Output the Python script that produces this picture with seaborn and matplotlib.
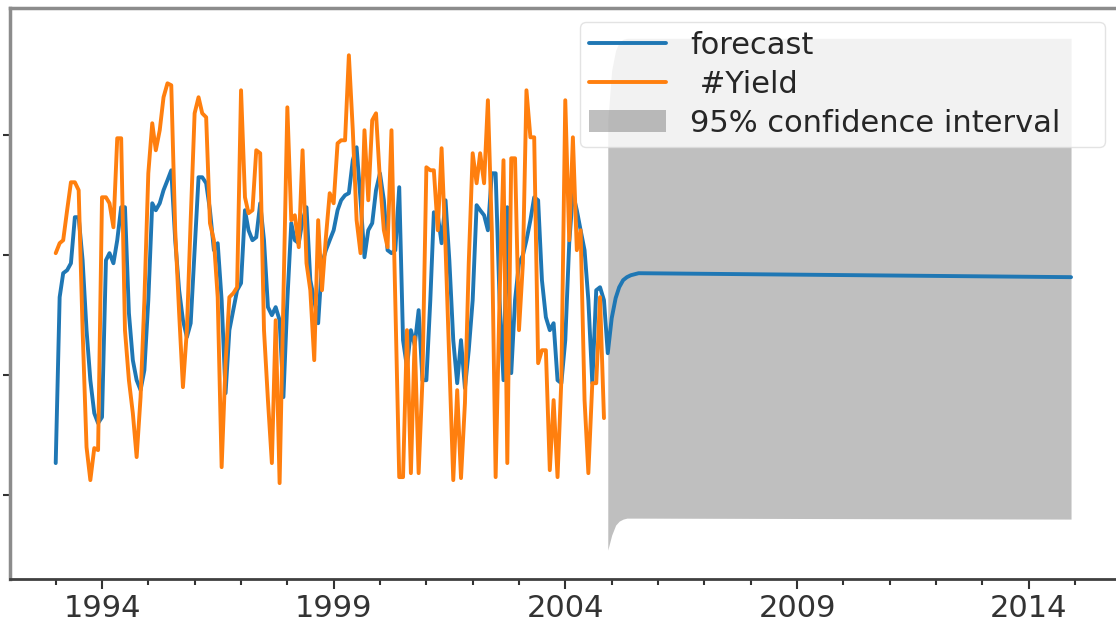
import numpy as np
import pandas as pd
import matplotlib
matplotlib.use('Agg')
import matplotlib.pyplot as plt
import matplotlib.dates as mdates
import seaborn as sns

# observed series (monthly, starting Jan 1993)
start_month = "1993-01-01"
yield_vals = [
    30.17, 31.00, 31.25, 33.75, 36.08, 36.08, 35.42, 23.75, 14.00, 11.25, 13.92, 13.75,
    34.83, 34.83, 34.33, 32.33, 39.75, 39.75, 23.75, 19.58, 16.83, 13.17, 18.17, 26.25,
    36.83, 41.00, 38.75, 40.42, 43.17, 44.33, 44.17, 32.08, 25.17, 19.00, 23.75, 32.92,
    41.83, 43.17, 41.83, 41.50, 32.67, 31.25, 26.50, 12.33, 21.00, 26.50, 26.83, 27.33,
    43.75, 34.83, 33.50, 33.75, 38.75, 38.50, 23.75, 17.92, 12.67, 24.58, 11.00, 26.25,
    42.33, 32.92, 33.33, 30.67, 38.75, 29.33, 27.08, 21.25, 32.92, 27.08, 31.50, 35.17,
    34.33, 39.33, 39.58, 39.58, 46.67, 40.42, 32.92, 30.17, 40.42, 34.58, 41.25, 41.83,
    36.25, 32.08, 30.67, 40.42, 26.25, 11.50, 11.50, 23.75, 11.83, 23.17, 11.83, 19.58,
    37.33, 37.08, 37.08, 32.08, 38.92, 30.67, 21.00, 11.25, 18.75, 11.42, 17.67, 29.33,
    38.50, 36.00, 38.50, 36.00, 42.92, 32.08, 11.50, 26.50, 37.92, 12.67, 38.08, 38.08,
    23.75, 29.33, 43.75, 39.83, 39.83, 21.00, 22.08, 22.08, 12.08, 17.92, 11.50, 19.58,
    42.92, 31.25, 39.83, 30.42, 32.08, 17.92, 11.83, 19.33, 19.33, 26.50, 16.42,
]

# in-sample prediction (same months)
pred_vals = [
    12.67, 26.50, 28.50, 28.75, 29.33, 33.17, 33.17, 29.58, 23.75, 19.58, 16.83, 16.00,
    16.50, 29.58, 30.17, 29.33, 31.25, 34.00, 34.00, 25.17, 21.25, 19.58, 18.75, 20.42,
    26.25, 34.33, 33.75, 34.33, 35.42, 36.25, 37.08, 31.25, 27.08, 24.58, 23.17, 24.33,
    30.42, 36.50, 36.50, 36.00, 33.75, 30.42, 31.00, 26.25, 18.50, 23.75, 25.42, 27.08,
    27.67, 33.75, 32.08, 31.25, 31.50, 34.33, 31.25, 25.67, 25.00, 25.67, 24.58, 18.17,
    26.25, 32.67, 31.25, 31.00, 32.92, 34.00, 27.92, 26.25, 24.33, 29.33, 30.42, 31.25,
    32.08, 33.75, 34.58, 35.00, 35.17, 37.92, 39.00, 34.58, 29.83, 32.08, 32.67, 35.42,
    36.83, 34.58, 30.42, 30.17, 30.42, 35.67, 22.92, 20.67, 23.75, 22.50, 25.42, 19.58,
    19.58, 26.25, 33.58, 33.33, 31.00, 34.58, 29.58, 22.92, 19.33, 22.92, 18.92, 22.08,
    26.25, 34.17, 33.75, 33.33, 32.08, 36.83, 36.83, 26.25, 19.58, 34.00, 20.17, 26.25,
    29.33, 30.00, 31.25, 32.92, 34.83, 34.58, 27.92, 24.83, 23.75, 24.33, 19.58, 19.33,
    22.92, 31.00, 35.17, 33.75, 32.08, 30.42, 26.25, 19.33, 27.08, 27.33, 26.25,
]

# out-of-sample forecast and its confidence band
fc_dates = ["2004-12-01", "2005-01-01", "2005-02-01", "2005-03-01", "2005-04-01",
            "2005-05-01", "2005-06-01", "2005-08-01", "2014-12-01"]
fc_vals = [21.83, 24.75, 26.42, 27.33, 27.92, 28.17, 28.33, 28.50, 28.17]
ci_lower = [5.42, 6.67, 7.50, 7.83, 8.00, 8.08, 8.08, 8.08, 8.00]
ci_upper = [41.25, 45.42, 47.08, 47.75, 48.00, 48.08, 48.08, 48.08, 48.08]

tick_years = [1994, 1999, 2004, 2009, 2014]
y_ticks = [10, 20, 30, 40]

sns.set_theme(style="ticks")
plt.rcParams.update({
    'font.family': ['DejaVu Sans'],
    'xtick.labelsize': 22,
    'ytick.labelsize': 22,
    'legend.fontsize': 22,
})

months = pd.date_range(start_month, periods=len(yield_vals), freq="MS")
fc_idx = pd.to_datetime(fc_dates)
obs = pd.DataFrame({'date': months, 'value': yield_vals})
line = pd.DataFrame({'date': list(months) + list(fc_idx),
                     'value': pred_vals + fc_vals})

fig = plt.figure(figsize=(11.16, 6.24), dpi=100)
ax = fig.add_axes([0.009, 0.072, 1.013, 0.915])

sns.lineplot(data=line, x='date', y='value', ax=ax, color='#1f77b4', lw=2.8,
             label='forecast')
sns.lineplot(data=obs, x='date', y='value', ax=ax, color='#ff7f0e', lw=2.8,
             label=' #Yield')
ax.fill_between(fc_idx, ci_lower, ci_upper, color='gray', alpha=0.5,
                lw=0, label='95% confidence interval')

ax.set_xlim(pd.Timestamp("1992-01-07"), pd.Timestamp("2016-06-01"))
ax.set_ylim(3.0, 50.6)
ax.set_yticks(y_ticks)
ax.set_yticklabels([])
ax.set_xlabel('')
ax.set_ylabel('')

ax.set_xticks(pd.to_datetime([f"{y}-01-01" for y in tick_years]))
ax.set_xticklabels([str(y) for y in tick_years])
ax.xaxis.set_minor_locator(mdates.YearLocator(1))
ax.tick_params(axis='x', which='major', length=7, width=1.5, color='#333333',
               labelcolor='#333333', pad=4)
ax.tick_params(axis='x', which='minor', length=4, width=1.5, color='#333333')
ax.tick_params(axis='y', length=5, width=1.5, color='#333333')

for side in ['left', 'top', 'right']:
    ax.spines[side].set_color('#8c8c8c')
    ax.spines[side].set_linewidth(2.5)
ax.spines['bottom'].set_color('#404040')
ax.spines['bottom'].set_linewidth(2.0)

top = 1 - 22 / 624
ax.legend(loc='upper left', mode='expand',
          bbox_to_anchor=(580 / 1116, 0.5, 525 / 1116, top - 0.5),
          bbox_transform=fig.transFigure, borderaxespad=0, borderpad=0.3,
          labelspacing=0.32, handlelength=2.5, handletextpad=0.8,
          framealpha=0.8, edgecolor='#dddddd')

fig.savefig('out.png', dpi=100)
